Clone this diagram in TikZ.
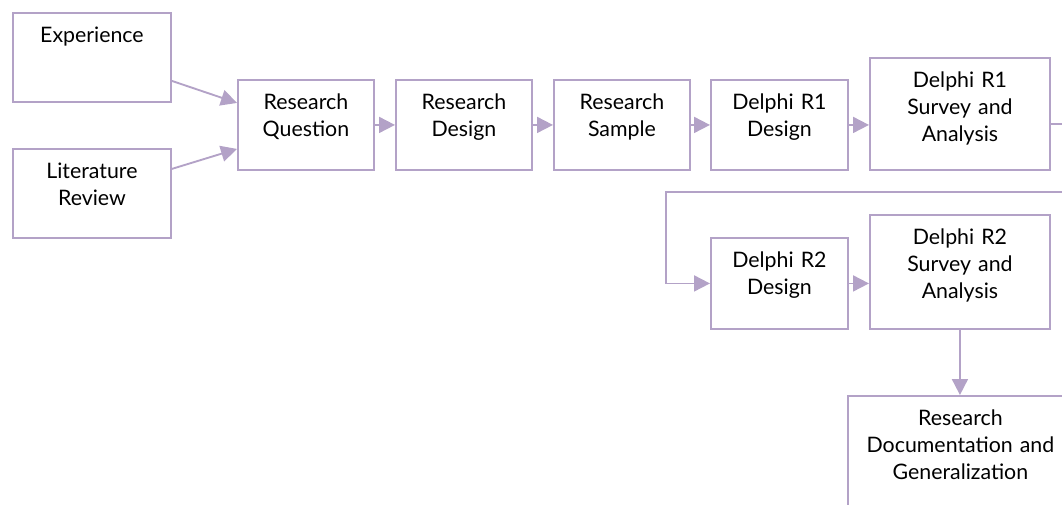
\documentclass[tikz,border=0pt]{standalone}
\usepackage{fontspec}
\setmainfont{Lato}
\usetikzlibrary{arrows.meta}
\definecolor{boxcol}{RGB}{179,162,199}

\begin{document}
\begin{tikzpicture}[x=0.75pt,y=-0.75pt]
  \useasboundingbox (0,0) rectangle (1062,504);
  \clip (0,0) rectangle (1062,504);

  % stili
  \tikzset{stage/.style={draw=boxcol, line width=1.4pt, anchor=north west, inner sep=0pt,
      align=center, text height=22.5pt, font=\fontsize{16}{20.25}\selectfont},
    flow/.style={-{Triangle[length=12pt,width=12pt]}, color=boxcol, line width=1.4pt}}

  % def box corners
  \coordinate (pExp) at (12,12);
  \coordinate (pLit) at (12,148);
  \coordinate (pRq) at (237,79);
  \coordinate (pRd) at (395,79);
  \coordinate (pRs) at (553,79);
  \coordinate (pD1d) at (710,79);
  \coordinate (pD1s) at (869,57);
  \coordinate (pD2d) at (710,237);
  \coordinate (pD2s) at (869,214);
  \coordinate (pDoc) at (847,395);
  % def bends of the loop
  \coordinate (c1) at (1075,124);
  \coordinate (c2) at (666,192);

  % boxes
  \node[stage, text width=118.5pt, text depth=44.25pt] (exp) at (pExp) {Experience};
  \node[stage, text width=118.5pt, text depth=44.25pt] (lit) at (pLit) {Literature\\Review};
  \node[stage, text width=102pt, text depth=45pt] (rq) at (pRq) {Research\\Question};
  \node[stage, text width=102pt, text depth=45pt] (rd) at (pRd) {Research\\Design};
  \node[stage, text width=102pt, text depth=45pt] (rs) at (pRs) {Research\\Sample};
  \node[stage, text width=102.75pt, text depth=45pt] (d1d) at (pD1d) {Delphi R1\\Design};
  \node[stage, text width=135pt, text depth=61.5pt] (d1s) at (pD1s) {Delphi R1\\Survey and\\Analysis};
  \node[stage, text width=102.75pt, text depth=45.75pt] (d2d) at (pD2d) {Delphi R2\\Design};
  \node[stage, text width=135pt, text depth=63pt] (d2s) at (pD2s) {Delphi R2\\Survey and\\Analysis};
  \node[stage, text width=168.75pt, text depth=90pt] (doc) at (pDoc) {Research\\Documentation and\\Generalization};

  % frecce
  \draw[flow] ([yshift=-17.6pt]exp.east) -- ([yshift=16.5pt]rq.west);
  \draw[flow] ([yshift=18.4pt]lit.east) -- ([yshift=-18pt]rq.west);
  \draw[flow] (rq.east) -- (rd.west);
  \draw[flow] (rd.east) -- (rs.west);
  \draw[flow] (rs.east) -- (d1d.west);
  \draw[flow] (d1d.east) -- (d1d.east -| d1s.west);
  \draw[flow] (d1s.east |- c1) -- (c1) |- (c2) |- (d2d.west);
  \draw[flow] (d2d.east) -- (d2d.east -| d2s.west);
  \draw[flow] (d2s.south) -- (d2s.south |- doc.north);

\end{tikzpicture}
\end{document}
